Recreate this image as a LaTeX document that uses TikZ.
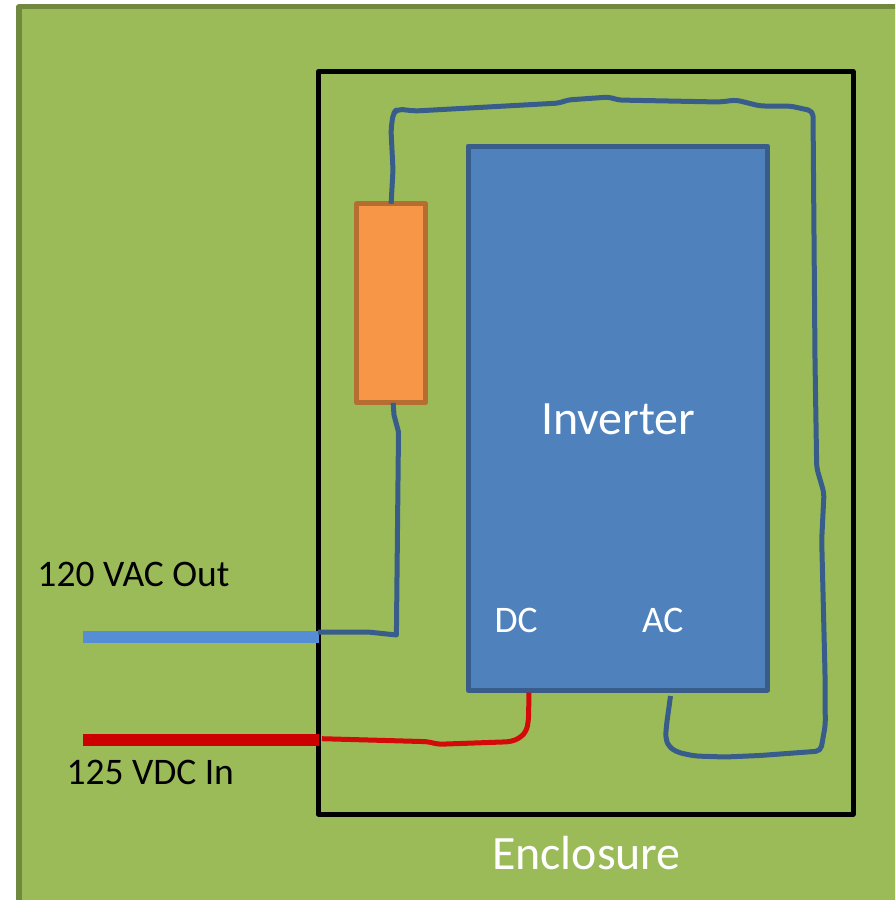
\documentclass[tikz,border=0pt]{standalone}
\usepackage{fontspec}
\setmainfont{Carlito}
\definecolor{boardfill}{HTML}{9BBB59}
\definecolor{boardedge}{HTML}{71893F}
\definecolor{invfill}{HTML}{4F81BD}
\definecolor{invedge}{HTML}{385D8A}
\definecolor{fusefill}{HTML}{F79646}
\definecolor{fuseedge}{HTML}{B66D31}
\definecolor{acbarcol}{HTML}{558ED5}
\definecolor{dcbarcol}{HTML}{CC0000}
\definecolor{dcwire}{HTML}{D40A0A}
\tikzset{
  x=1pt,y=-1pt,
  box/.style={rectangle,draw,inner sep=0pt,outer sep=0pt,line join=round},
  bar/.style={rectangle,draw=none,inner sep=0pt,outer sep=0pt,minimum width=236pt},
  wire/.style={line width=5pt,rounded corners=5pt,line cap=butt,line join=round},
  lab/.style={anchor=base west,inner sep=0pt,outer sep=0pt,text=black,font=\fontsize{37.5}{40}\selectfont},
  wlab/.style={lab,text=white},
  biglab/.style={lab,text=white,font=\fontsize{47.9}{50}\selectfont}
}
\begin{document}
\begin{tikzpicture}
\useasboundingbox (0,0) rectangle (895,900);
\clip (0,0) rectangle (895,900);
\node[box,draw=boardedge,fill=boardfill,line width=5.2pt,minimum width=900pt,minimum height=920pt,anchor=north west] (board) at (19,6.8) {};
\node[box,draw=black,line width=5pt,minimum width=534.5pt,minimum height=742.5pt,anchor=north west] (enclosure) at (318.5,71.5) {};
\node[box,draw=invedge,fill=invfill,line width=5pt,minimum width=299.5pt,minimum height=544pt,anchor=north west] (inverter) at (468,146) {};
\node[box,draw=fuseedge,fill=fusefill,line width=5pt,minimum width=68.6pt,minimum height=199pt,anchor=north west] (fuse) at (356.8,203.8) {};
\node[bar,fill=acbarcol,minimum height=12pt,anchor=north west] (acbar) at (83,631) {};
\node[bar,fill=dcbarcol,minimum height=11.7pt,anchor=north west] (dcbar) at (83,734) {};
\coordinate (acjoint) at (318,632);
\coordinate (dcjoint) at (322,738.7);
\coordinate (dcport) at (529,692.5);
\coordinate (acport) at (670.5,696);
% wires
\draw[wire,draw=invedge] (fuse.north) -- (393,170) -- (391,130) -- (393,114) -- (397,109) -- (415,111) -- (560,103) -- (567,100) -- (610,97) -- (617,100) -- (720,102) -- (736,100) -- (760,106) -- (790,106) -- (813,111) -- (815,360) -- (816.7,468) -- (824,493) -- (821.7,540) -- (825,673) -- (825.3,725) -- (820.7,751) -- (760,755.5) -- (725,757) -- (695,756) -- (678,752.5) -- (669,747) -- (665.5,738) -- (666.5,725) -- (acport);
\draw[line width=5pt,line join=round,draw=invedge] (fuse.south) ++(2,0) -- (394,415) -- (398.5,432) -- (396.4,635) -- (368,632) -- (acjoint);
\draw[wire,draw=dcwire] (dcjoint) -- (428.6,741.7) -- (437.5,744.3) -- (510.7,741.7) -- (520,738) -- (526.5,731) -- (528.5,720) -- (dcport);
% labels
\node[lab] (acout) at (37.5,586) {120 VAC Out};
\node[lab] (dcin) at (66.5,784) {125 VDC In};
\node[biglab] (invlab) at (541,434.5) {Inverter};
\node[wlab] (dclab) at (494.5,632) {DC};
\node[wlab] (aclab) at (642,632) {AC};
\node[biglab] (enclab) at (492,869) {Enclosure};
\end{tikzpicture}
\end{document}
